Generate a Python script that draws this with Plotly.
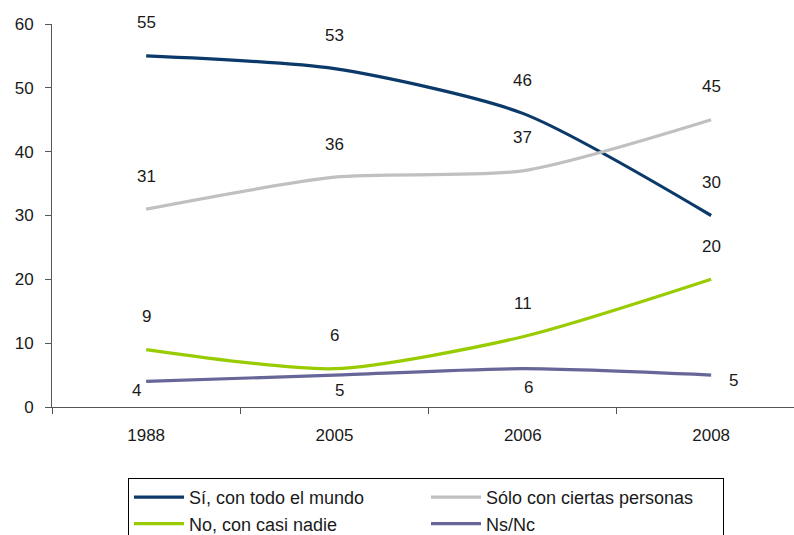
import plotly.graph_objects as go

years = ["1988", "2005", "2006", "2008"]
si_todos = [55, 53, 46, 30]
solo_ciertas = [31, 36, 37, 45]
no_casi_nadie = [9, 6, 11, 20]
ns_nc = [4, 5, 6, 5]

series = [
    ("Sí, con todo el mundo", si_todos, "#0b3a6a"),
    ("Sólo con ciertas personas", solo_ciertas, "#c0c0c0"),
    ("No, con casi nadie", no_casi_nadie, "#99cc00"),
    ("Ns/Nc", ns_nc, "#666699"),
]

fig = go.Figure()
for name, vals, color in series:
    fig.add_trace(go.Scatter(
        x=years, y=vals, name=name, mode="lines",
        line=dict(color=color, width=3.2, shape="spline", smoothing=0.7),
    ))

font_lbl = dict(family="Liberation Sans, Arial, sans-serif", size=17, color="#1a1a1a")
annotations = []
# value labels above the points for the first three series
for _, vals, _ in series[:3]:
    for i, v in enumerate(vals):
        annotations.append(dict(x=i, y=v, xref="x", yref="y", text=str(v),
                                showarrow=False, yshift=33, font=font_lbl))
# Ns/Nc labels sit below / beside the line
ns_offsets = [(-10, -9), (5, -15), (6, -19), (22, -5)]
for i, (v, (dx, dy)) in enumerate(zip(ns_nc, ns_offsets)):
    annotations.append(dict(x=i, y=v, xref="x", yref="y", text=str(v),
                            showarrow=False, xshift=dx, yshift=dy, font=font_lbl))

fig.update_layout(
    width=794, height=535,
    margin=dict(l=52, r=0, t=24, b=128, autoexpand=False),
    paper_bgcolor="white", plot_bgcolor="white",
    font=dict(family="Liberation Sans, Arial, sans-serif", size=17, color="#1a1a1a"),
    showlegend=True,
    legend=dict(orientation="h", xref="container", yref="container",
                x=128 / 794, y=1 - 478 / 535, xanchor="left", yanchor="top",
                bordercolor="#000000", borderwidth=1, entrywidth=232,
                font=dict(size=18), tracegroupgap=0, itemwidth=50),
    annotations=annotations,
    xaxis=dict(type="category", range=[-0.5, 3.44], tickson="boundaries",
               ticks="outside", ticklen=6, tickcolor="#555", showline=True,
               linecolor="#555", linewidth=1, showgrid=False, zeroline=False,
               ticklabelstandoff=13, tickfont=dict(size=17)),
    yaxis=dict(range=[0, 60], tickvals=[0, 10, 20, 30, 40, 50, 60],
               ticks="outside", ticklen=6, tickcolor="#555", showline=True,
               linecolor="#555", linewidth=1, showgrid=False, zeroline=False,
               ticklabelstandoff=8, tickfont=dict(size=17)),
)

fig.write_html("out.html")
